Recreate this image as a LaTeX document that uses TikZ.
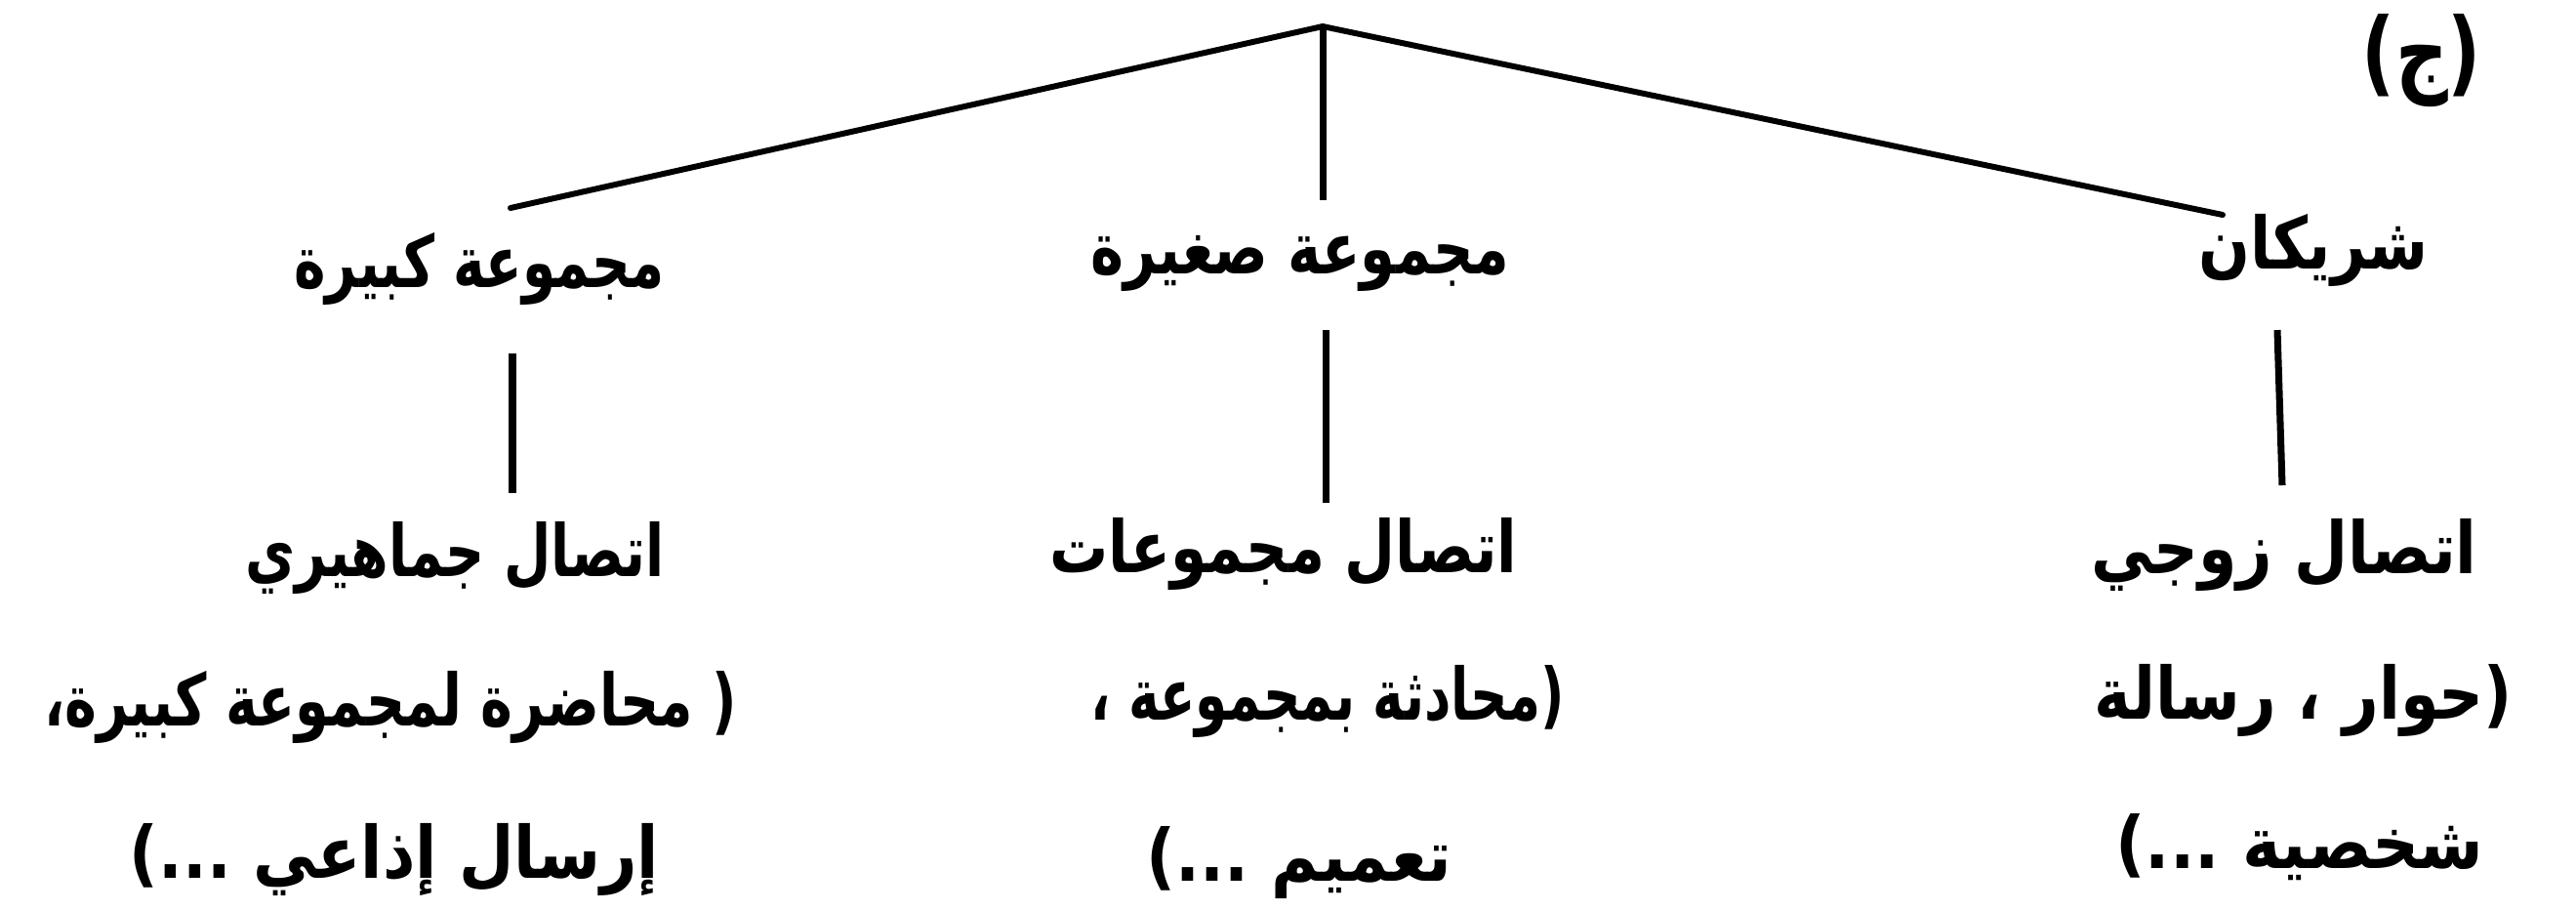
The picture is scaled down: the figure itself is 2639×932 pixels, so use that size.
\documentclass[tikz,border=0pt]{standalone}
\usepackage{fontspec}
\usepackage{graphicx}
\newfontfamily\arabicfont[Script=Arabic]{DejaVu Sans}
\TeXXeTstate=1
\newcommand\fitw[2]{\resizebox{#1}{\height}{#2}}
\newcommand\ar[1]{\beginR #1\endR}
\begin{document}
\begin{tikzpicture}[x=0.01cm,y=-0.01cm,
  lbl/.style={inner sep=0pt, font=\arabicfont\bfseries\fontsize{21}{25}\selectfont},
  biglbl/.style={inner sep=0pt, font=\arabicfont\bfseries\fontsize{27}{30}\selectfont},
  slant/.style={line width=1.7pt, line cap=round},
  stem/.style={line width=2pt}]
\useasboundingbox (0,0) rectangle (2639,932);
% tree lines
\coordinate (apex) at (1355,27);
\coordinate (endL) at (523,213);
\coordinate (endM) at (1355,205);
\coordinate (endR) at (2277,220);
\draw[slant] (apex) -- (endL);
\draw[slant] (apex) -- (endR);
\draw[stem] (apex) -- (endM);
% label
\node[biglbl] (tag) at (2481,62) {\fitw{1.22cm}{\ar{(ج)}}};
% first row
\node[lbl] (t1L) at (491,275) {\fitw{3.79cm}{\ar{مجموعة كبيرة}}};
\node[lbl] (t1M) at (1332,270) {\fitw{4.28cm}{\ar{مجموعة صغيرة}}};
\node[lbl] (t1R) at (2370,256) {\fitw{2.35cm}{\ar{شريكان}}};
% stems
\coordinate (sLa) at (525,362); \coordinate (sLb) at (525,505);
\coordinate (sMa) at (1358,338); \coordinate (sMb) at (1358,515);
\coordinate (sRa) at (2333,338); \coordinate (sRb) at (2338,497);
\draw[stem] (sLa) -- (sLb);
\draw[stem] (sMa) -- (sMb);
\draw[stem] (sRa) -- (sRb);
% second row
\node[lbl] (t2L) at (466,571) {\fitw{4.29cm}{\ar{اتصال جماهيري}}};
\node[lbl] (t2M) at (1315,567) {\fitw{4.79cm}{\ar{اتصال مجموعات}}};
\node[lbl] (t2R) at (2340,568) {\fitw{3.95cm}{\ar{اتصال زوجي}}};
% third row
\node[lbl] (t3L) at (400,724) {\fitw{7.09cm}{\ar{( محاضرة لمجموعة كبيرة،}}};
\node[lbl] (t3M) at (1360,718) {\fitw{4.85cm}{\ar{(محادثة بمجموعة ،}}};
\node[lbl] (t3R) at (2360,717) {\fitw{4.28cm}{\ar{(حوار ، رسالة}}};
% fourth row
\node[lbl] (t4L) at (404,880) {\fitw{5.42cm}{\ar{إرسال إذاعي ...)}}};
\node[lbl] (t4M) at (1331,883) {\fitw{3.12cm}{\ar{تعميم ...)}}};
\node[lbl] (t4R) at (2356,868) {\fitw{3.77cm}{\ar{شخصية ...)}}};
\end{tikzpicture}
\end{document}
